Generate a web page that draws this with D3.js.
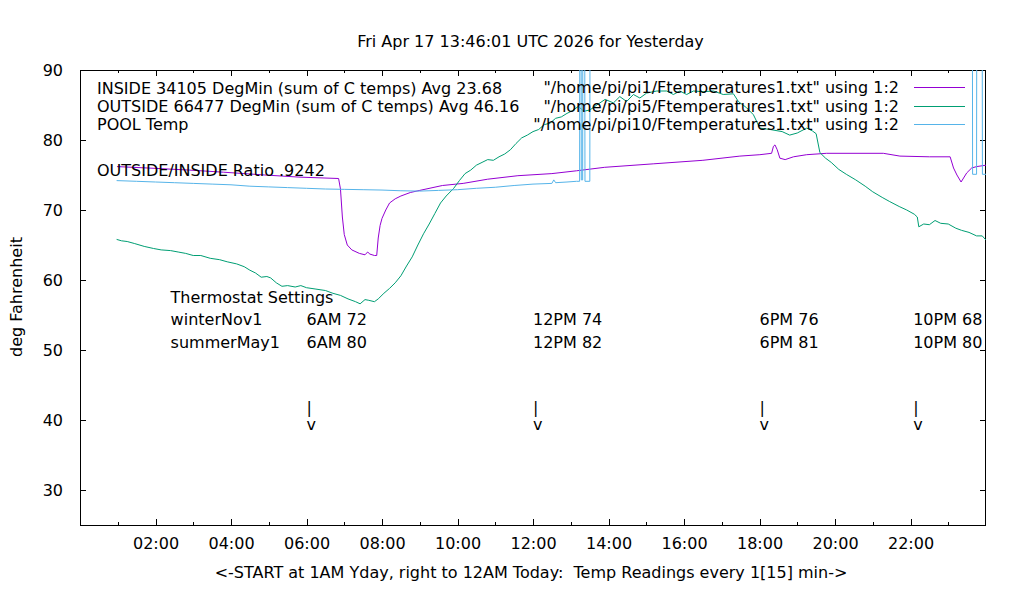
<!DOCTYPE html>
<html><head><meta charset="utf-8">
<script src="https://cdn.jsdelivr.net/npm/d3@7"></script>
<style>
html,body{margin:0;padding:0;background:#fff;}
svg text{font-family:"DejaVu Sans",sans-serif;font-size:16px;fill:#000;white-space:pre;}
</style></head><body>
<svg id="chart" width="1020" height="600"></svg>
<script>
// ---- data (hours since midnight, deg F) ----
const insideTimes = [0.98,1.8,2.9,3.8,4.9,5.8,6.85,6.9,6.95,7.0,7.08,7.2,7.4,7.55,7.62,7.68,7.8,7.86,7.9,7.95,8.0,8.1,8.2,8.35,8.5,8.75,9.0,9.6,10.15,10.8,11.6,12.5,13.15,13.9,15.2,16.5,17.48,18.01,18.32,18.37,18.41,18.47,18.54,18.68,18.9,19.25,19.78,21.28,21.72,22.5,23.05,23.14,23.23,23.34,23.49,23.62,23.75,24.0];
const insideTemps = [76.2,76.0,75.7,75.4,75.0,74.7,74.5,73.0,69.0,66.5,65.0,64.3,63.8,63.6,64.0,63.7,63.5,63.5,66.0,67.8,68.8,70.0,71.0,71.6,72.0,72.5,72.8,73.5,73.8,74.4,74.9,75.2,75.6,76.1,76.6,77.1,77.7,77.9,78.1,79.1,79.3,78.6,77.4,77.2,77.6,77.9,78.1,78.1,77.7,77.6,77.6,76.0,75.0,74.0,75.3,76.0,76.2,76.4];

const outsideTimes = [0.97,1.1,1.25,1.45,1.7,1.95,2.15,2.4,2.6,2.8,3.0,3.2,3.45,3.7,3.9,4.15,4.35,4.5,4.65,4.8,4.95,5.05,5.2,5.35,5.5,5.7,5.85,6.0,6.25,6.5,6.7,6.9,7.1,7.3,7.42,7.55,7.65,7.8,7.9,8.05,8.2,8.35,8.5,8.65,8.8,8.95,9.1,9.25,9.4,9.55,9.7,9.9,10.05,10.2,10.35,10.5,10.65,10.8,10.95,11.1,11.25,11.4,11.55,11.7,11.85,12.0,12.15,12.3,12.45,12.6,12.75,12.9,13.05,13.2,13.35,13.51,13.69,13.91,14.13,14.3,14.48,14.66,14.83,15.01,15.28,15.54,15.72,15.89,16.07,16.25,16.51,16.78,17.04,17.31,17.44,17.66,17.84,18.01,18.28,18.6,18.8,19.0,19.25,19.4,19.5,19.6,19.75,19.9,20.1,20.3,20.55,20.8,21.0,21.25,21.45,21.7,21.9,22.1,22.18,22.22,22.35,22.5,22.65,22.8,23.0,23.2,23.35,23.55,23.75,23.9,24.0];
const outsideTemps = [65.8,65.6,65.5,65.2,64.8,64.5,64.3,64.2,64.0,63.8,63.5,63.5,63.1,62.9,62.6,62.3,61.9,61.4,61.0,60.4,60.5,60.3,59.6,59.1,59.2,59.0,59.2,58.9,58.7,58.5,58.1,57.8,57.3,56.9,56.6,57.2,57.1,56.9,57.3,58.1,58.8,59.6,60.6,62.0,63.3,65.0,66.6,68.0,69.5,71.0,72.0,73.1,74.2,75.2,75.7,76.4,76.8,77.2,77.1,77.6,78.0,78.6,79.5,80.3,80.7,81.2,81.5,82.2,82.4,83.1,83.3,83.8,84.2,84.8,84.1,84.3,85.0,85.8,85.3,86.2,85.5,86.5,86.0,86.7,87.0,87.0,86.5,87.0,86.5,87.0,86.9,87.0,86.5,86.6,85.5,84.6,83.6,81.7,81.5,81.2,80.7,81.0,81.7,81.3,80.9,78.2,77.4,76.8,75.8,75.1,74.3,73.4,72.6,71.8,71.2,70.5,70.0,69.4,69.0,67.6,68.0,67.9,68.5,68.1,68.0,67.4,67.1,66.8,66.3,66.3,65.7];

const poolTimes = [0.97,1.5,2.0,2.5,3.0,3.5,4.0,4.5,5.0,5.5,6.0,6.5,7.0,7.5,8.0,8.5,9.0,9.5,10.0,10.5,11.0,11.5,12.0,12.5,12.55,12.6,12.9,13.15,13.235,13.24,13.275,13.28,13.315,13.32,13.37,13.377,13.505,13.51,16.0,20.0,23.64,23.645,23.75,23.755,23.9,23.905,24.0];
const poolTemps = [74.2,74.1,74.0,73.9,73.8,73.7,73.6,73.4,73.3,73.2,73.1,73.0,72.95,72.9,72.85,72.75,72.7,72.8,72.9,73.1,73.25,73.5,73.7,73.8,74.3,73.9,74.0,74.1,74.1,96,96,74.3,74.3,96,96,74.1,74.1,96,98,97,96,75.1,75.1,96,96,75.1,75.1];

const yTicks = [30,40,50,60,70,80,90];
const xMajorTicks = [2,4,6,8,10,12,14,16,18,20,22];
const xMinorTicks = [1,3,5,7,9,11,13,15,17,19,21,23];

const seriesNames = ['"/home/pi/pi1/Ftemperatures1.txt" using 1:2','"/home/pi/pi5/Ftemperatures1.txt" using 1:2','"/home/pi/pi10/Ftemperatures1.txt" using 1:2'];
const seriesColors = ['#9400d3','#009e73','#56b4e9'];
const infoLines = ['INSIDE 34105 DegMin (sum of C temps) Avg 23.68','OUTSIDE 66477 DegMin (sum of C temps) Avg 46.16','POOL Temp'];
const ratioLabel = 'OUTSIDE/INSIDE Ratio .9242';
const titleText = 'Fri Apr 17 13:46:01 UTC 2026 for Yesterday';
const xLabelText = '<-START at 1AM Yday, right to 12AM Today:  Temp Readings every 1[15] min->';
const yLabelText = 'deg Fahrenheit';
const thermoRows = ['Thermostat Settings','winterNov1','summerMay1'];
const thermoHours = [6,12,18,22.07];
const winterSet = ['6AM 72','12PM 74','6PM 76','10PM 68'];
const summerSet = ['6AM 80','12PM 82','6PM 81','10PM 80'];

// ---- layout ----
const L=80,R=986,T=70,B=525;
const svg=d3.select('#chart');
const x=d3.scaleLinear().domain([0,24]).range([L,R]);
const y=d3.scaleLinear().domain([25,90]).range([B,T]);

svg.append('defs').append('clipPath').attr('id','clip')
  .append('rect').attr('x',L).attr('y',T).attr('width',R-L).attr('height',B-T);

const fmt=h=>String(h).padStart(2,'0')+':00';
function styleAxis(g){g.select('.domain').remove();g.selectAll('line').attr('stroke','#000').attr('shape-rendering','crispEdges');
  g.selectAll('text').attr('font-family','DejaVu Sans').attr('font-size',16).attr('fill','#000');}

svg.append('g').attr('transform',`translate(0,${B})`)
 .call(d3.axisBottom(x).tickValues(xMajorTicks).tickFormat(fmt).tickSizeInner(-6).tickPadding(13))
 .call(styleAxis);
svg.append('g').attr('transform',`translate(0,${B})`)
 .call(d3.axisBottom(x).tickValues(xMinorTicks).tickFormat('').tickSizeInner(-3)).call(styleAxis);
svg.append('g').attr('transform',`translate(0,${T})`)
 .call(d3.axisTop(x).tickValues(xMajorTicks).tickFormat('').tickSizeInner(-6)).call(styleAxis);
svg.append('g').attr('transform',`translate(0,${T})`)
 .call(d3.axisTop(x).tickValues(xMinorTicks).tickFormat('').tickSizeInner(-3)).call(styleAxis);
svg.append('g').attr('transform',`translate(${L},0)`)
 .call(d3.axisLeft(y).tickValues(yTicks).tickFormat(d3.format('d')).tickSizeInner(-6).tickPadding(17))
 .call(styleAxis);
svg.append('g').attr('transform',`translate(${R},0)`)
 .call(d3.axisRight(y).tickValues(yTicks).tickFormat('').tickSizeInner(-6)).call(styleAxis);

svg.append('rect').attr('x',L+0.5).attr('y',T+0.5).attr('width',R-L-1).attr('height',B-T)
 .attr('fill','none').attr('stroke','#000').attr('shape-rendering','crispEdges');

const line=d3.line().x(d=>x(d[0])).y(d=>y(d[1]));
const series=[d3.zip(insideTimes,insideTemps),d3.zip(outsideTimes,outsideTemps),d3.zip(poolTimes,poolTemps)];
const plot=svg.append('g').attr('clip-path','url(#clip)');
series.forEach((s,i)=>{
  plot.append('path').datum(s).attr('d',line).attr('fill','none')
   .attr('stroke',seriesColors[i]).attr('stroke-width',1);
});

seriesNames.forEach((n,i)=>{
  const yy=87.5+i*18.5;
  svg.append('text').attr('x',899).attr('y',yy).attr('text-anchor','end').attr('dominant-baseline','central').text(n);
  svg.append('line').attr('x1',914).attr('x2',965).attr('y1',yy).attr('y2',yy)
   .attr('stroke',seriesColors[i]).attr('shape-rendering','crispEdges');
});
infoLines.forEach((t,i)=>{
  svg.append('text').attr('x',97).attr('y',88.3+i*18).attr('dominant-baseline','central').text(t);
});
svg.append('text').attr('x',97).attr('y',170).attr('dominant-baseline','central').text(ratioLabel);

const rowY=[57.57,54.29,51.14];
thermoRows.forEach((t,i)=>{
  svg.append('text').attr('x',x(2.4)).attr('y',y(rowY[i])).attr('dominant-baseline','central').text(t);
});
thermoHours.forEach((h,i)=>{
  svg.append('text').attr('x',x(h)).attr('y',y(rowY[1])).attr('dominant-baseline','central').text(winterSet[i]);
  svg.append('text').attr('x',x(h)).attr('y',y(rowY[2])).attr('dominant-baseline','central').text(summerSet[i]);
  const arrow=svg.append('text').attr('x',x(h)).attr('y',y(41.0));
  arrow.append('tspan').attr('x',x(h)).attr('dy',0).text('|');
  arrow.append('tspan').attr('x',x(h)).attr('dy',17).text('v');
});

svg.append('text').attr('x',530.5).attr('y',41).attr('text-anchor','middle').attr('dominant-baseline','central').text(titleText);
svg.append('text').attr('x',531).attr('y',572).attr('text-anchor','middle').attr('dominant-baseline','central').text(xLabelText);
svg.append('text').attr('transform','translate(16,297) rotate(-90)').attr('text-anchor','middle').attr('dominant-baseline','central').text(yLabelText);
</script></body></html>
